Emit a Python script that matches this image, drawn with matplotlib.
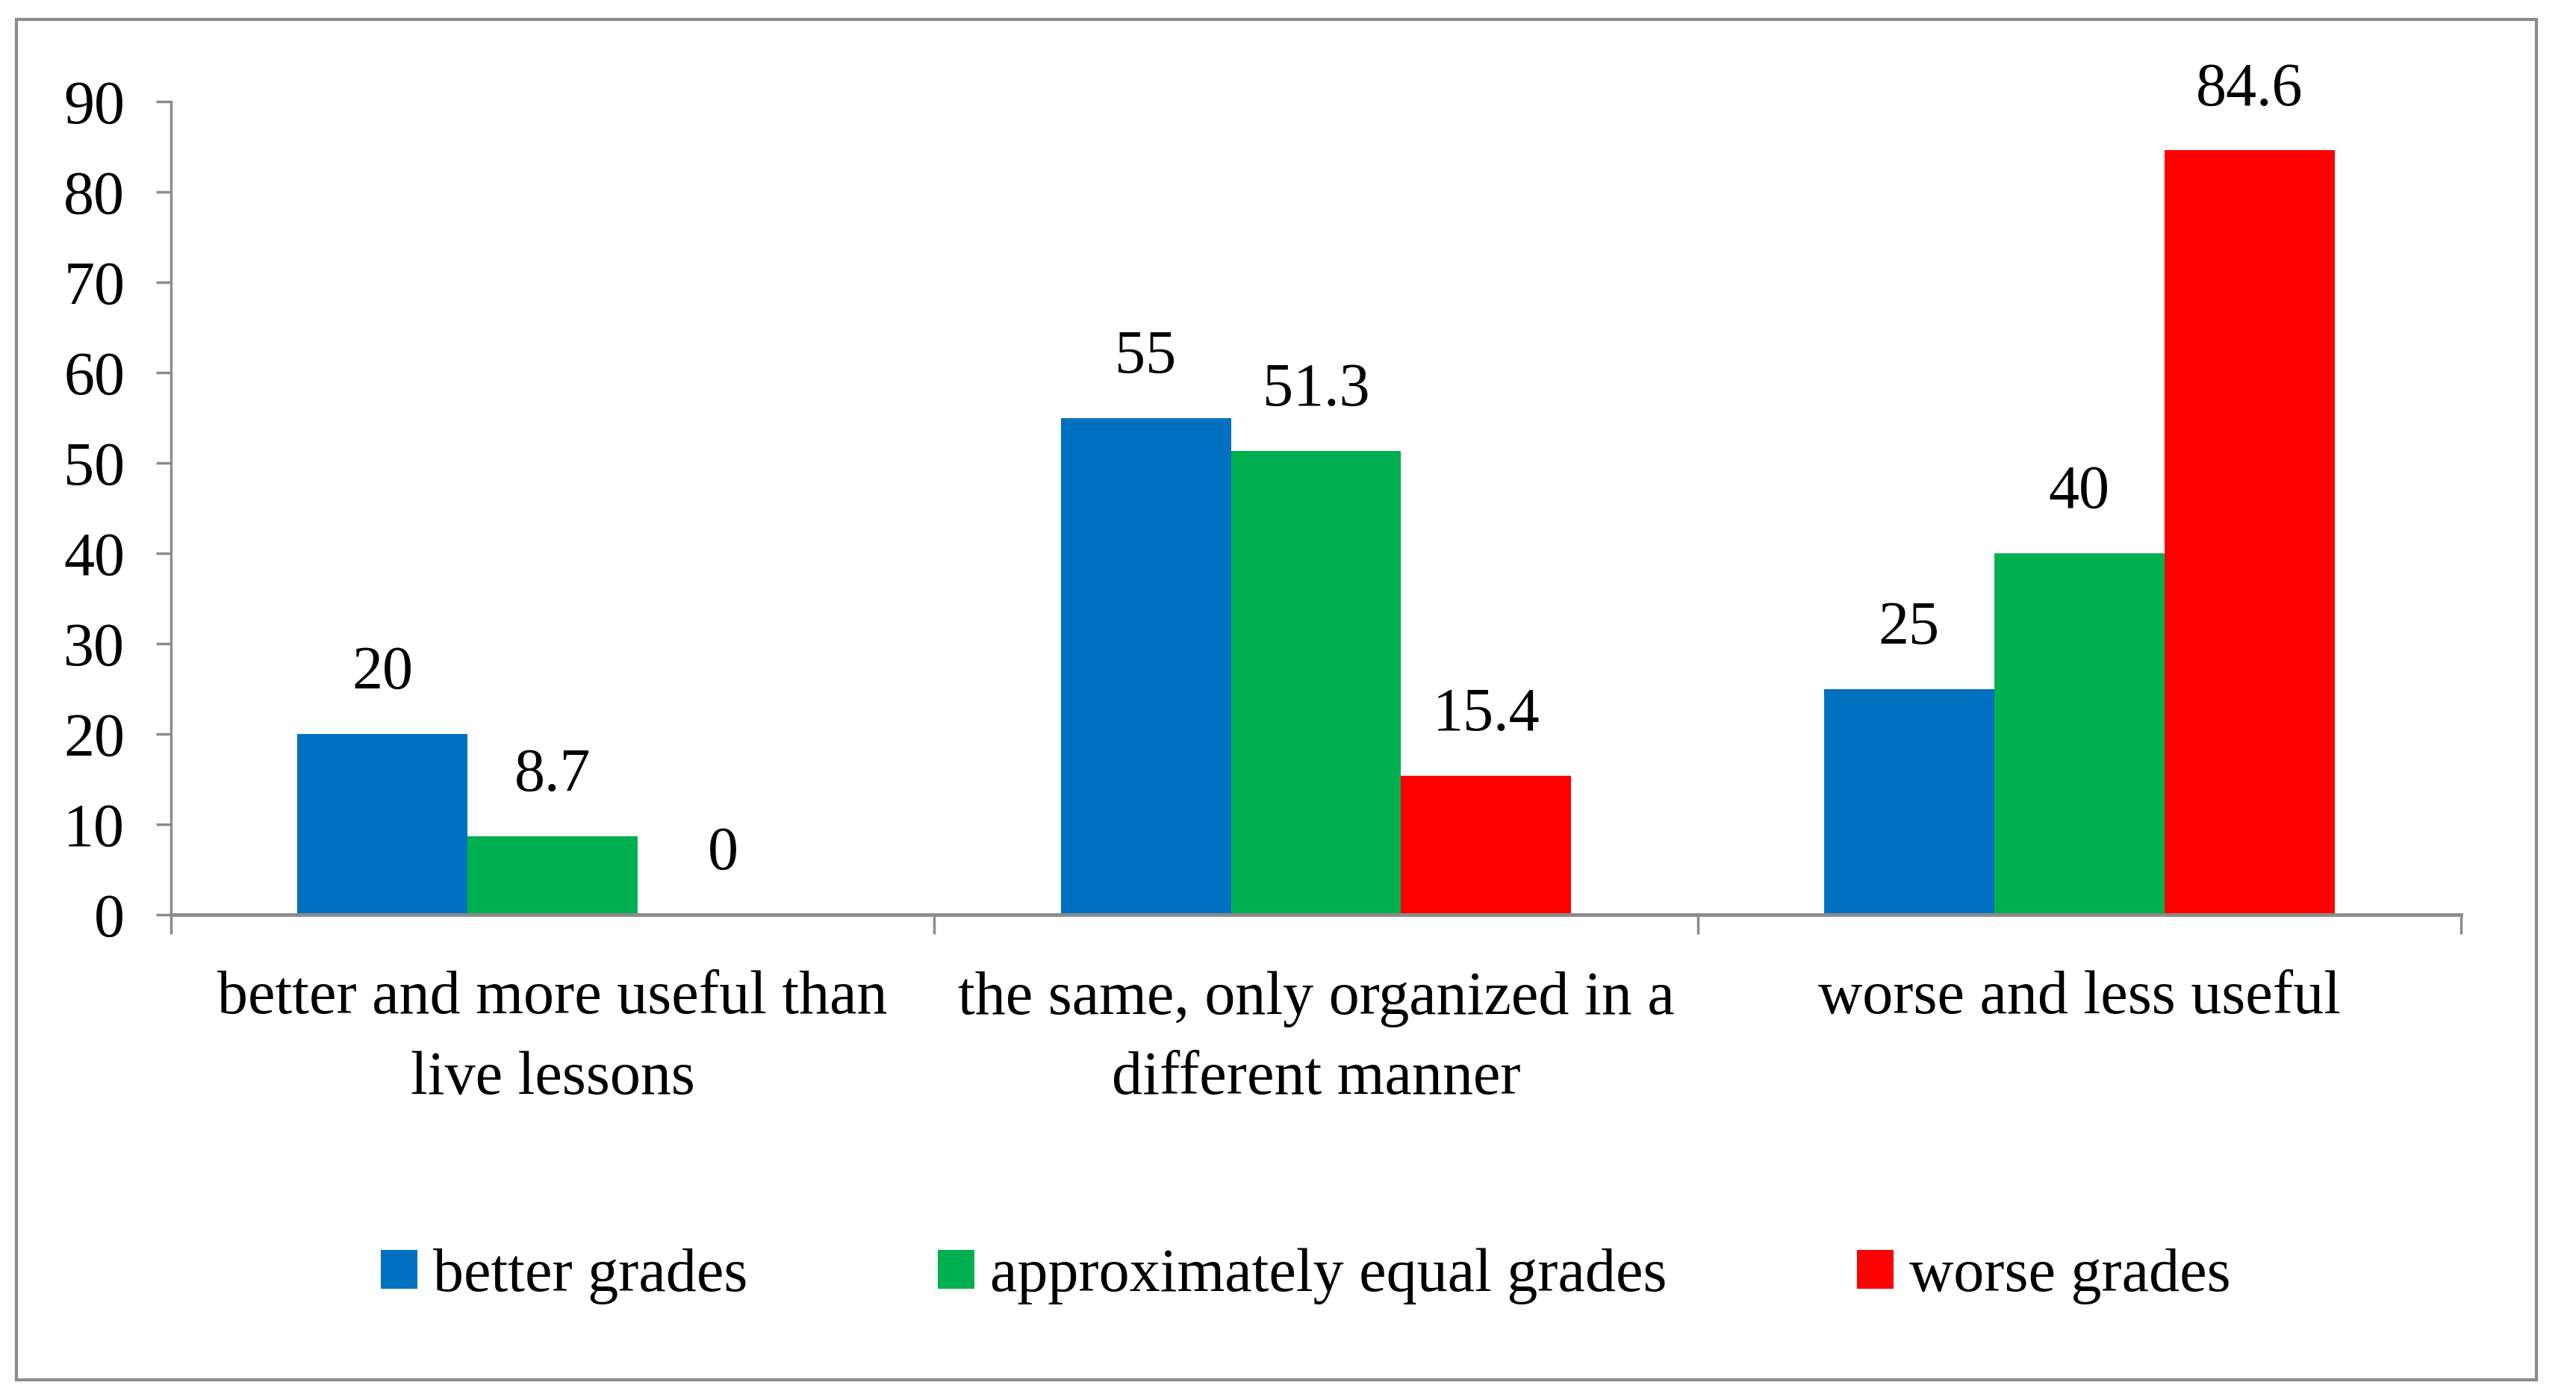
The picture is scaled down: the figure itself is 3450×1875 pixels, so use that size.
import numpy as np
import matplotlib.pyplot as plt
from matplotlib.patches import Rectangle, Patch

# Data
categories = ["better and more useful than\nlive lessons",
              "the same, only organized in a\ndifferent manner",
              "worse and less useful"]
series_names = ["better grades", "approximately equal grades", "worse grades"]
better = [20, 55, 25]
equal = [8.7, 51.3, 40]
worse = [0, 15.4, 84.6]
value_labels = [["20", "55", "25"], ["8.7", "51.3", "40"], ["0", "15.4", "84.6"]]
colors = ["#0070C0", "#00B050", "#FF0000"]
yticks = [0, 10, 20, 30, 40, 50, 60, 70, 80, 90]

plt.rcParams['font.family'] = ['Liberation Serif', 'DejaVu Serif']
gray = "#8c8c8c"
fs = 59

fig = plt.figure(figsize=(34.5, 18.75), dpi=100)
ax = fig.add_axes([229 / 3450, 1 - 1225 / 1875, (3296 - 229) / 3450, (1225 - 136) / 1875])

x = np.arange(len(categories))
w = 0.223
for i, vals in enumerate([better, equal, worse]):
    bars = ax.bar(x + (i - 1) * w, vals, w, color=colors[i], label=series_names[i])
    for b, lab in zip(bars, value_labels[i]):
        ax.annotate(lab, (b.get_x() + b.get_width() / 2, b.get_height()),
                    xytext=(0, 58), textcoords="offset points",
                    ha="center", va="center", fontsize=fs)

ax.set_xlim(-0.5, 2.5)
ax.set_ylim(0, 90)
ax.set_yticks(yticks)
ax.set_xticks(x)
ax.set_xticklabels(categories, fontsize=fs, linespacing=1.56)
ax.set_xticks(np.arange(-0.5, 3, 1), minor=True)
ax.tick_params(axis="x", which="major", length=0, pad=54)
ax.tick_params(axis="x", which="minor", length=19, width=2.5, color=gray, direction="out")
ax.tick_params(axis="y", length=14.5, width=2.5, color=gray, labelsize=fs, pad=30)

for s in ["top", "right"]:
    ax.spines[s].set_visible(False)
for s in ["left", "bottom"]:
    ax.spines[s].set_color(gray)
    ax.spines[s].set_linewidth(2.5)
ax.spines["bottom"].set_linewidth(3.5)

handles = [Patch(facecolor=c, label=n) for c, n in zip(colors, series_names)]
fig.legend(handles=handles, loc="center", bbox_to_anchor=(1749 / 3450, 1 - 1709 / 1875),
           ncol=3, frameon=False, fontsize=fs, handlelength=0.6, handleheight=0.6,
           handletextpad=0.26, columnspacing=3.1)

# outer border
fig.patches.append(Rectangle((22 / 3450, 1 - 1848 / 1875), (3397 - 22) / 3450, (1848 - 26) / 1875,
                             transform=fig.transFigure, fill=False, edgecolor=gray, linewidth=3))

fig.savefig("out.png", dpi=100, facecolor="white")
